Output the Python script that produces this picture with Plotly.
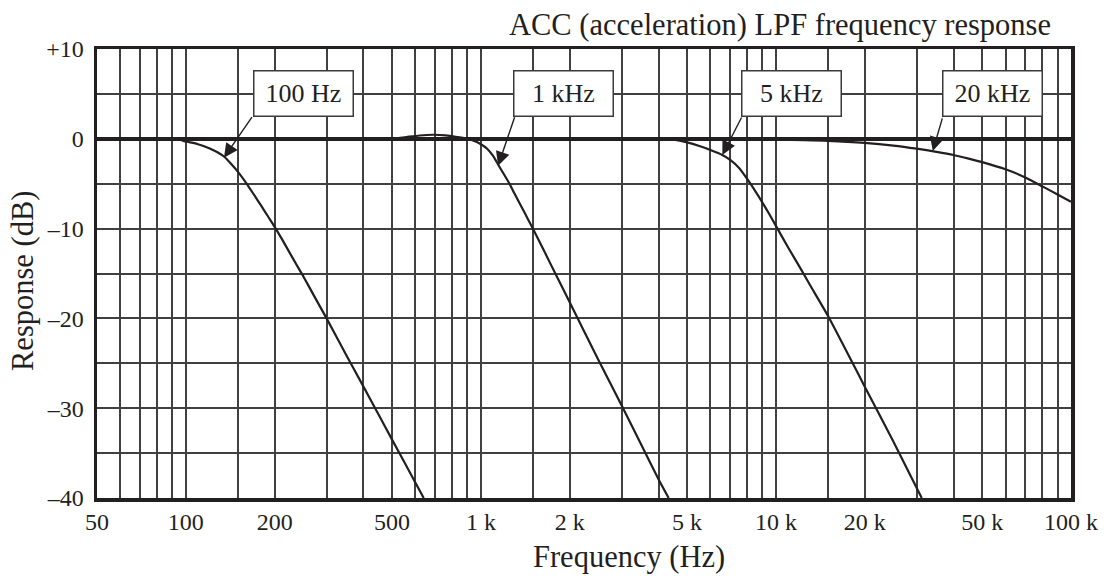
import numpy as np
import plotly.graph_objects as go

# ---------------- data ----------------
F_100 = [85, 95, 100, 110, 120, 128, 135, 142, 150, 160, 170, 180, 190, 200, 212, 225,
         237, 250, 270, 300, 350, 400, 450, 500, 550, 600, 640]
DB_100 = [0, -0.1, -0.3, -0.6, -1.05, -1.5, -2.0, -2.75, -3.65, -4.9, -6.2, -7.45, -8.65,
          -9.8, -11.2, -12.7, -14.0, -15.3, -17.3, -20.0, -24.1, -27.6, -30.7, -33.5,
          -36.0, -38.3, -40.0]

F_1K = [500, 560, 620, 690, 760, 830, 900, 950, 1000, 1050, 1100, 1150, 1200, 1250, 1300,
        1400, 1500, 1650, 1800, 2000, 2500, 3000, 3500, 4000, 4330]
DB_1K = [0, 0.2, 0.37, 0.45, 0.38, 0.2, 0, -0.25, -0.6, -1.1, -1.9, -3.0, -4.0, -5.0, -6.1,
         -8.1, -10.0, -12.7, -15.2, -18.2, -24.6, -29.7, -34.1, -37.9, -40.0]

F_5K = [4000, 4500, 5000, 5500, 6000, 6580, 7000, 7500, 8000, 8500, 9000, 9500, 10000,
        11000, 12000, 13000, 15000, 17500, 20000, 25000, 31200]
DB_5K = [0, -0.1, -0.4, -0.8, -1.25, -1.8, -2.35, -3.25, -4.5, -5.8, -7.1, -8.4, -9.7,
         -12.1, -14.2, -16.2, -19.7, -23.9, -27.6, -33.7, -40.0]

F_20K = [10000, 12500, 15000, 20000, 25000, 30000, 35000, 40000, 45000, 50000, 60000,
         70000, 80000, 90000, 100000]
DB_20K = [-0.1, -0.15, -0.22, -0.45, -0.75, -1.1, -1.45, -1.8, -2.2, -2.6, -3.4, -4.3,
          -5.3, -6.2, -7.0]

SERIES = [(F_100, DB_100), (F_1K, DB_1K), (F_5K, DB_5K), (F_20K, DB_20K)]

# labels: text, box centre (freq, dB), arrow tip (freq, dB), tail offset px
LABELS = ["100 Hz", "1 kHz", "5 kHz", "20 kHz"]
LABEL_F = [250, 1910, 11300, 54400]
LABEL_DB = [5, 5, 5, 5]
ARROW_F = [134.7, 1144, 6580, 34000]
ARROW_DB = [-2.1, -3.0, -1.8, -1.35]
ARROW_AX = [29, 17, 20, 10]
ARROW_AY = [-42, -50, -39, -34]

X_TICKS = [50, 100, 200, 500, 1000, 2000, 5000, 10000, 20000, 50000, 100000]
X_TICKTEXT = ["50", "100", "200", "500", "1 k", "2 k", "5 k", "10 k", "20 k", "50 k", "100 k"]
MANTISSAS = [1, 1.5, 2, 3, 4, 5, 6, 7, 8, 9]
DECADES = [10, 100, 1000, 10000]
THICK_X = [100, 1000, 10000]

Y_TICKS = [10, 5, 0, -5, -10, -15, -20, -25, -30, -35, -40]
Y_TICKTEXT = ["+10", "", "0", "", "\u201310", "", "\u201320", "", "\u201330", "", "\u201340"]

INK = "#231f20"
GRID = "#404040"
FONT = "Liberation Serif, Times New Roman, serif"

grid_x = [m * d for d in DECADES for m in MANTISSAS if 50 <= m * d <= 100000]

W, H = 1111, 578
L, T = 97, 49
PW, PH = 974, 449

fig = go.Figure()
for f, db in SERIES:
    fig.add_trace(go.Scatter(x=f, y=db, mode="lines",
                             line=dict(color=INK, width=2.2, shape="spline", smoothing=0.6),
                             showlegend=False, hoverinfo="skip"))


def px_x(p):
    return (p - L) / PW


def px_y(p):
    return (T + PH - p) / PH


annotations = []
for t, lf, ld, af, ad, ax, ay in zip(LABELS, LABEL_F, LABEL_DB, ARROW_F, ARROW_DB, ARROW_AX, ARROW_AY):
    annotations.append(dict(x=np.log10(af), y=ad, xref="x", yref="y", text="",
                            showarrow=True, ax=ax, ay=ay, arrowhead=2, arrowsize=2.0,
                            arrowwidth=1.4, arrowcolor=INK, standoff=0))
    annotations.append(dict(x=np.log10(lf), y=ld, xref="x", yref="y", text=t,
                            showarrow=False, font=dict(family=FONT, size=26, color=INK),
                            bgcolor="white", bordercolor="#3a3a3a", borderwidth=1.5,
                            borderpad=0, width=98, height=44, xanchor="center", yanchor="middle"))

annotations.append(dict(text="ACC (acceleration) LPF frequency response", xref="paper", yref="paper",
                        x=px_x(1053), y=px_y(25), xanchor="right", yanchor="middle",
                        showarrow=False, font=dict(family=FONT, size=30.5, color=INK)))
annotations.append(dict(text="Frequency (Hz)", xref="paper", yref="paper",
                        x=px_x(629), y=px_y(557), xanchor="center", yanchor="middle",
                        showarrow=False, font=dict(family=FONT, size=30.5, color=INK)))
annotations.append(dict(text="Response (dB)", xref="paper", yref="paper", textangle=-90,
                        x=px_x(23), y=px_y(281), xanchor="center", yanchor="middle",
                        showarrow=False, font=dict(family=FONT, size=30.5, color=INK)))

fig.update_layout(
    width=W, height=H, autosize=False,
    margin=dict(l=L, r=W - L - PW, t=T, b=H - T - PH, pad=0, autoexpand=False),
    paper_bgcolor="white", plot_bgcolor="white",
    font=dict(family=FONT, color=INK),
    annotations=annotations,
    hovermode=False,
    xaxis=dict(type="log", range=[np.log10(50), 5], tickmode="array", tickvals=X_TICKS,
               ticktext=X_TICKTEXT, showgrid=False, zeroline=False, ticks="", automargin=False,
               ticklabelstandoff=0, tickfont=dict(family=FONT, size=24, color=INK),
               showline=True, linewidth=3.5, linecolor=INK, mirror=True,
               minor=dict(tickmode="array", tickvals=grid_x, showgrid=True,
                          gridcolor=GRID, gridwidth=2, ticks="")),
    xaxis2=dict(type="log", range=[np.log10(50), 5], overlaying="x", anchor="y", side="bottom",
                tickmode="array", tickvals=THICK_X, showticklabels=False, ticks="",
                automargin=False, showgrid=True, gridcolor=INK, gridwidth=4,
                zeroline=False, showline=False),
    yaxis=dict(range=[-40, 10], tickmode="array", tickvals=Y_TICKS, ticktext=Y_TICKTEXT,
               showgrid=True, gridcolor=GRID, gridwidth=2, zeroline=True, automargin=False,
               zerolinecolor=INK, zerolinewidth=4, ticks="", ticklabelstandoff=5,
               tickfont=dict(family=FONT, size=24, color=INK),
               showline=True, linewidth=3.5, linecolor=INK, mirror=True),
)

fig.write_html("out.html", config={"displayModeBar": False, "staticPlot": True},
               post_script="document.body.style.margin='0';document.body.style.overflow='hidden';")
